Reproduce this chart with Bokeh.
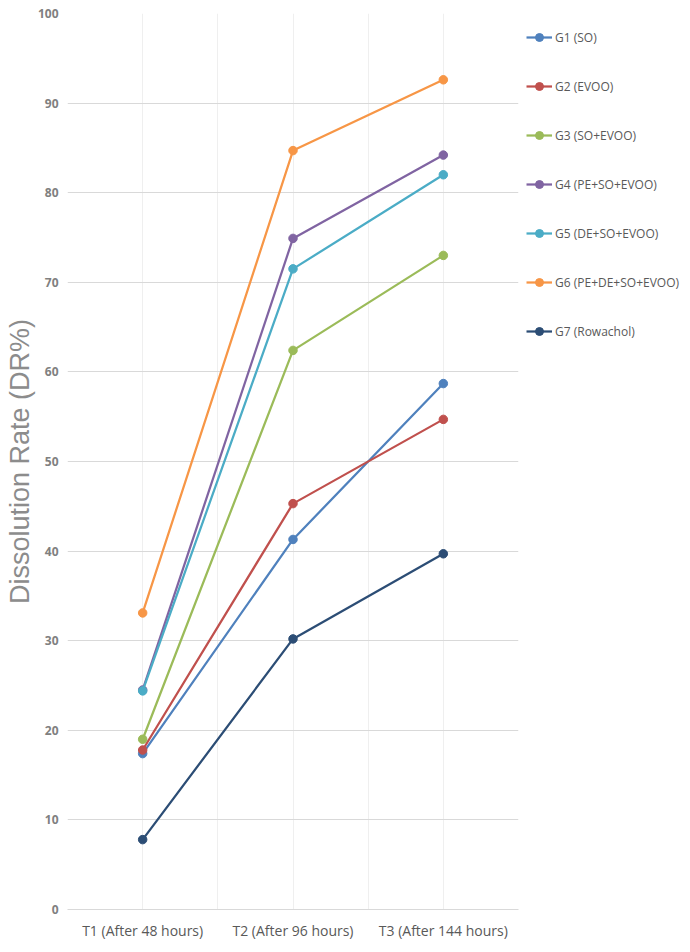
from bokeh.plotting import figure
from bokeh.models import FixedTicker, Legend, LegendItem, Range1d
from bokeh.embed import file_html
from bokeh.resources import INLINE

# Sampling times and dissolution rates per group
time_labels = ["T1 (After 48 hours)", "T2 (After 96 hours)", "T3 (After 144 hours)"]
group_names = [
    "G1 (SO)",
    "G2 (EVOO)",
    "G3 (SO+EVOO)",
    "G4 (PE+SO+EVOO)",
    "G5 (DE+SO+EVOO)",
    "G6 (PE+DE+SO+EVOO)",
    "G7 (Rowachol)",
]
g1 = [17.4, 41.3, 58.7]
g2 = [17.8, 45.3, 54.7]
g3 = [19.0, 62.4, 73.0]
g4 = [24.5, 74.9, 84.2]
g5 = [24.4, 71.5, 82.0]
g6 = [33.1, 84.7, 92.6]
g7 = [7.8, 30.2, 39.7]
series = [g1, g2, g3, g4, g5, g6, g7]
colors = ["#4F81BD", "#C0504D", "#9BBB59", "#8064A2", "#4BACC6", "#F79646", "#2C4D75"]

# category centres on a numeric axis
xs = [i + 0.5 for i in range(len(time_labels))]

FONT = "Open Sans"

p = figure(
    frame_width=451, frame_height=896,
    output_backend="svg", toolbar_location=None,
    x_range=Range1d(0, 3), y_range=Range1d(0, 100),
    min_border_left=67, min_border_right=172,
    min_border_top=13, min_border_bottom=43,
)
p.outline_line_color = None
p.background_fill_color = "white"
p.border_fill_color = "white"

# y axis
p.yaxis.ticker = FixedTicker(ticks=list(range(0, 101, 10)))
p.yaxis.axis_line_color = None
p.yaxis.major_tick_line_color = None
p.yaxis.major_tick_out = 0
p.yaxis.major_tick_in = 0
p.yaxis.minor_tick_line_color = None
p.yaxis.major_label_text_font = FONT
p.yaxis.major_label_text_font_style = "bold"
p.yaxis.major_label_text_font_size = "12px"
p.yaxis.major_label_text_color = "#808080"
p.yaxis.major_label_standoff = 9
p.yaxis.axis_label = "Dissolution Rate (DR%)"
p.yaxis.axis_label_text_font = "Liberation Sans"
p.yaxis.axis_label_text_font_style = "normal"
p.yaxis.axis_label_text_font_size = "27px"
p.yaxis.axis_label_text_color = "#8c8c8c"
p.yaxis.axis_label_standoff = 0

# x axis
p.xaxis.ticker = FixedTicker(ticks=xs)
p.xaxis.major_label_overrides = {x: lab for x, lab in zip(xs, time_labels)}
p.xaxis.axis_line_color = "#d9d9d9"
p.xaxis.axis_line_width = 1
p.xaxis.major_tick_line_color = None
p.xaxis.major_tick_out = 0
p.xaxis.major_tick_in = 0
p.xaxis.minor_tick_line_color = None
p.xaxis.major_label_text_font = FONT
p.xaxis.major_label_text_font_size = "14px"
p.xaxis.major_label_text_color = "#595959"
p.xaxis.major_label_standoff = 11

# grids
p.ygrid.grid_line_color = "#d9d9d9"
p.ygrid.grid_line_width = 1
p.xgrid.ticker = FixedTicker(ticks=[0, 0.5, 1, 1.5, 2, 2.5, 3])
p.xgrid.grid_line_color = "#efefef"
p.xgrid.grid_line_width = 1

items = []
for name, vals, col in zip(group_names, series, colors):
    ln = p.line(xs, vals, line_color=col, line_width=2.25)
    sc = p.scatter(xs, vals, size=8.5, fill_color=col, line_color=col)
    items.append(LegendItem(label=name, renderers=[ln, sc]))

legend = Legend(
    items=items,
    location="top_left",
    orientation="vertical",
    glyph_width=26,
    glyph_height=20,
    label_height=32,
    spacing=17,
    padding=0,
    margin=8,
    label_standoff=3,
    label_text_font=FONT,
    label_text_font_size="12px",
    label_text_color="#595959",
    border_line_color=None,
    background_fill_alpha=0,
)
p.add_layout(legend, "right")

open("out.html", "w").write(file_html(p, INLINE))
